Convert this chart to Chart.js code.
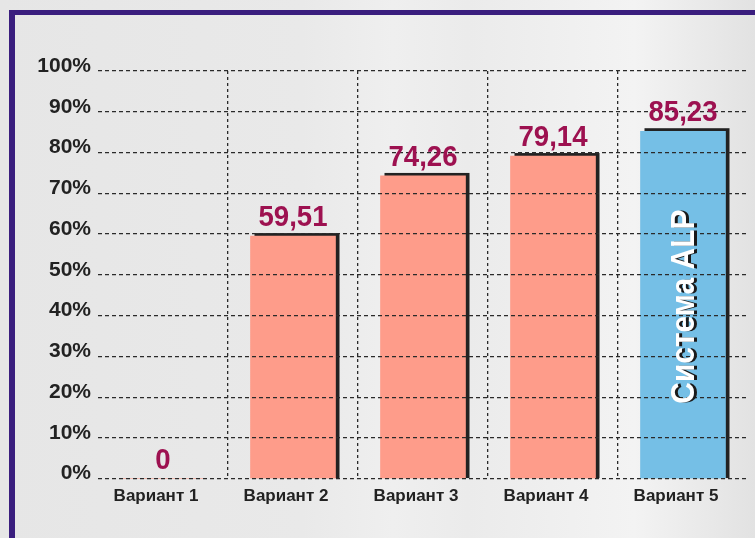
<!DOCTYPE html>
<html>
<head>
<meta charset="utf-8">
<script src="https://cdn.jsdelivr.net/npm/chart.js@4.4.1/dist/chart.umd.min.js"></script>
<style>
  html, body { margin: 0; padding: 0; }
  body {
    width: 755px; height: 538px; overflow: hidden; position: relative;
    background: linear-gradient(90deg, #e6e6e6 0%, #e9e9e9 40%, #efefef 52%, #ebebeb 62%, #f3f3f3 84%, #e2e2e2 100%);
  }
  #frame {
    position: absolute; left: 9px; top: 10px; right: 0; bottom: 0;
    border-left: 6px solid #3a1e7e; border-top: 5px solid #3a1e7e;
  }
  #chart { position: absolute; left: 0; top: 0; }
</style>
</head>
<body>
<div id="frame"></div>
<canvas id="chart" width="755" height="538"></canvas>
<script>
const categories = ['Вариант 1', 'Вариант 2', 'Вариант 3', 'Вариант 4', 'Вариант 5'];
const values = [0, 59.51, 74.26, 79.14, 85.23];
const barColors = ['#fe9c8a', '#fe9c8a', '#fe9c8a', '#fe9c8a', '#75bfe6'];
const highlightIndex = 4;
const highlightText = 'Система ALP';

const FONT = '"Liberation Sans", Arial, sans-serif';

// "59,51" style labels, plain "0" for zero
const fmtValue = (v) => (v === 0 ? '0' : v.toFixed(2).replace('.', ','));

// black offset block behind every bar
const barShadow = {
    id: 'barShadow',
    beforeDatasetsDraw(chart) {
        const ctx = chart.ctx;
        const meta = chart.getDatasetMeta(0);
        ctx.save();
        ctx.fillStyle = '#222222';
        meta.data.forEach((bar, i) => {
            if (!values[i]) return;
            const w = bar.width;
            ctx.fillRect(bar.x - w / 2 + 4, bar.y - 3, w, bar.base - bar.y + 3);
        });
        ctx.restore();
    }
};

const barLabels = {
    id: 'barLabels',
    afterDraw(chart) {
        const ctx = chart.ctx;
        const meta = chart.getDatasetMeta(0);
        meta.data.forEach((bar, i) => {
            ctx.save();
            ctx.translate(bar.x, bar.y - 10);
            ctx.scale(0.92, 1);
            ctx.font = 'bold 30px ' + FONT;
            ctx.fillStyle = '#9d1150';
            ctx.textAlign = 'center';
            ctx.textBaseline = 'alphabetic';
            ctx.fillText(fmtValue(values[i]), 0, 0);
            ctx.restore();
        });

        // vertical caption inside the highlighted bar
        const hb = meta.data[highlightIndex];
        ctx.save();
        ctx.translate(hb.x + 2, (hb.y + hb.base) / 2 + 2);
        ctx.rotate(-Math.PI / 2);
        ctx.scale(0.88, 1);
        ctx.font = 'bold 34px ' + FONT;
        ctx.fillStyle = '#ffffff';
        ctx.shadowColor = '#1a1a1a';
        ctx.shadowOffsetX = 3;
        ctx.shadowOffsetY = 0;
        ctx.shadowBlur = 0;
        ctx.textAlign = 'center';
        ctx.textBaseline = 'middle';
        ctx.fillText(highlightText, 0, 0);
        ctx.restore();
    }
};

new Chart(document.getElementById('chart'), {
    type: 'bar',
    data: {
        labels: categories,
        datasets: [{
            data: values,
            backgroundColor: barColors,
            borderWidth: 0,
            barThickness: 85
        }]
    },
    options: {
        responsive: false,
        devicePixelRatio: 1,
        animation: false,
        layout: { padding: { top: 71, right: 7, left: 0, bottom: 0 } },
        plugins: {
            legend: { display: false },
            tooltip: { enabled: false }
        },
        scales: {
            x: {
                afterFit: (scale) => { scale.height = 59.3; },
                grid: {
                    drawTicks: false,
                    lineWidth: 1.3,
                    // only the inner separators between categories
                    color: (c) => (c.index >= 1 && c.index <= 4 ? '#2a2a2a' : 'rgba(0,0,0,0)')
                },
                border: { display: false, dash: [3, 3] },
                ticks: {
                    color: '#222222',
                    font: { family: FONT, size: 17, weight: 'bold' },
                    padding: 7,
                    labelOffset: -7
                }
            },
            y: {
                min: 0,
                max: 100,
                afterFit: (scale) => { scale.width = 98; },
                grid: {
                    drawTicks: false,
                    lineWidth: 1.3,
                    color: '#2a2a2a',
                    z: 1
                },
                border: { display: false, dash: [4, 3] },
                ticks: {
                    stepSize: 10,
                    color: '#222222',
                    font: { family: FONT, size: 21, weight: 'bold' },
                    padding: 7,
                    labelOffset: -5,
                    callback: (v) => v + '%'
                }
            }
        }
    },
    plugins: [barShadow, barLabels]
});
</script>
</body>
</html>
